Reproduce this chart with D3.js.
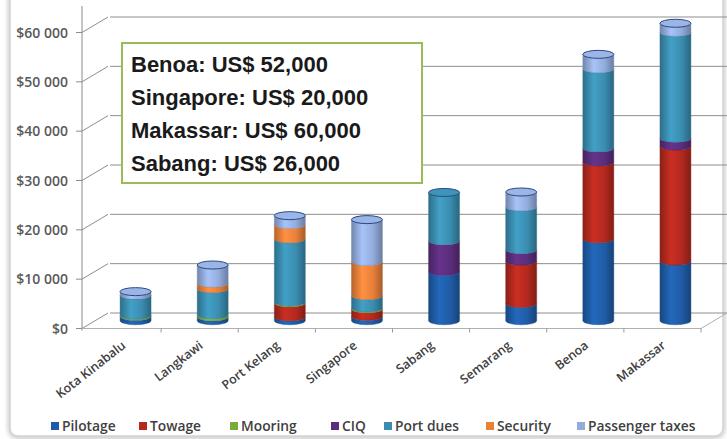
<!DOCTYPE html>
<html>
<head>
<meta charset="utf-8">
<script src="https://cdn.jsdelivr.net/npm/d3@7"></script>
<style>
  body { margin: 0; background: #fff; }
  svg { display: block; }
</style>
</head>
<body>
<svg id="chart" width="727" height="439"></svg>
<script>
// ---- data ----
const ports = ["Kota Kinabalu", "Langkawi", "Port Kelang", "Singapore", "Sabang", "Semarang", "Benoa", "Makassar"];
const seriesNames = ["Pilotage", "Towage", "Mooring", "CIQ", "Port dues", "Security", "Passenger taxes"];
const pilotage  = [900, 800, 800, 900, 10000, 3500, 16600, 12100];
const towage    = [0, 0, 2800, 1500, 0, 8600, 15600, 23300];
const mooring   = [200, 400, 200, 200, 0, 0, 0, 0];
const ciq       = [0, 0, 0, 0, 6200, 2300, 2800, 1600];
const portDues  = [4100, 5300, 12800, 2500, 9800, 8700, 16100, 21500];
const security  = [0, 1100, 2900, 6900, 0, 0, 0, 0];
const passenger = [700, 3700, 1800, 8500, 0, 3000, 2900, 1800];
const yTicks = [0, 10000, 20000, 30000, 40000, 50000, 60000];
const notes = ["Benoa: US$ 52,000", "Singapore: US$ 20,000", "Makassar: US$ 60,000", "Sabang: US$ 26,000"];

const colors = ["#1f5ca6", "#b3291f", "#7aab3a", "#5b2d7c", "#3a8db0", "#e8803a", "#93acdc"];
const series = [pilotage, towage, mooring, ciq, portDues, security, passenger];

// ---- layout ----
const svg = d3.select("#chart");
const depthX = 26, depthY = 15.5;   // 3d offset of the back wall
const floorY = 328.5;
const labelFont = "'Open Sans', Lato, sans-serif";

const x = d3.scaleBand().domain(ports).range([84, 701]);
const yFront = d3.scaleLinear().domain([0, 60000]).range([floorY, 32.5]);
const yMid = v => yFront(v) - depthY / 2;

// gradients for cylinders
const defs = svg.append("defs");
colors.forEach((c, i) => {
    const base = d3.color(c);
    const g = defs.append("linearGradient").attr("id", "cyl" + i)
        .attr("x1", "0%").attr("x2", "100%").attr("y1", "0%").attr("y2", "0%");
    g.append("stop").attr("offset", "0%").attr("stop-color", base.darker(0.7));
    g.append("stop").attr("offset", "35%").attr("stop-color", base.brighter(0.35));
    g.append("stop").attr("offset", "70%").attr("stop-color", base);
    g.append("stop").attr("offset", "100%").attr("stop-color", base.darker(0.9));
});
const shadow = defs.append("filter").attr("id", "shadow")
    .attr("x", "-5%").attr("y", "-5%").attr("width", "110%").attr("height", "110%");
shadow.append("feGaussianBlur").attr("stdDeviation", 2);

// frame
svg.append("rect")
    .attr("x", 10).attr("y", -20).attr("width", 713).attr("height", 457).attr("rx", 8)
    .attr("fill", "none").attr("stroke", "#c4c4c4").attr("stroke-width", 4)
    .attr("filter", "url(#shadow)");
svg.append("rect")
    .attr("x", 10).attr("y", -20).attr("width", 713).attr("height", 456).attr("rx", 8)
    .attr("fill", "#fff").attr("stroke", "#d4d4d4").attr("stroke-width", 1.5);

const grid = svg.append("g").attr("stroke", "#8e8e8e").attr("stroke-width", 1).attr("fill", "none");

// back wall gridlines + left wall diagonals
yTicks.forEach(t => {
    const yf = yFront(t);
    grid.append("line").attr("x1", 84 + depthX).attr("x2", 727 + depthX)
        .attr("y1", yf - depthY).attr("y2", yf - depthY);
    grid.append("line").attr("x1", 82).attr("y1", yf)
        .attr("x2", 82 + depthX).attr("y2", yf - depthY);
    grid.append("line").attr("x1", 76).attr("x2", 82).attr("y1", yf).attr("y2", yf);
});

// y axis line
grid.append("line").attr("x1", 82).attr("x2", 82).attr("y1", 6).attr("y2", floorY + 2)
    .attr("stroke", "#8a8a8a");

// floor front edge and right slant
grid.append("line").attr("x1", 82).attr("x2", 701).attr("y1", floorY).attr("y2", floorY)
    .attr("stroke", "#b0b0b0");
grid.append("line").attr("x1", 701).attr("y1", floorY)
    .attr("x2", 701 + depthX).attr("y2", floorY - depthY).attr("stroke", "#b0b0b0");
ports.forEach(p => {
    const xe = x(p) + x.bandwidth();
    grid.append("line").attr("x1", xe).attr("x2", xe)
        .attr("y1", floorY).attr("y2", floorY + 4).attr("stroke", "#999");
});

// y tick labels
svg.append("g").selectAll("text").data(yTicks).join("text")
    .attr("x", 68).attr("y", d => yFront(d) + 5)
    .attr("text-anchor", "end")
    .attr("font-family", labelFont)
    .attr("font-size", 14).attr("font-weight", 600)
    .attr("fill", "#595959")
    .text(d => d === 0 ? "$0" : "$" + d3.format(",")(d).replace(",", " "));

// x labels
svg.append("g").selectAll("text").data(ports).join("text")
    .attr("transform", d => `translate(${x(d) + x.bandwidth() / 2 + 4}, 347) rotate(-38)`)
    .attr("text-anchor", "end")
    .attr("font-family", labelFont)
    .attr("font-size", 12.5).attr("font-weight", 600)
    .attr("fill", "#404040")
    .text(d => d);

// cylinders
const rx = 15.5, ry = 4;
const bars = svg.append("g");
ports.forEach((p, i) => {
    const cx = x(p) + x.bandwidth() / 2 + depthX / 2;
    let acc = 0, topIdx = 0;
    series.forEach((s, k) => {
        const v = s[i];
        if (v <= 0) return;
        const yb = yMid(acc), yt = yMid(acc + v);
        acc += v;
        topIdx = k;
        bars.append("path")
            .attr("d", `M${cx - rx},${yt} A${rx},${ry} 0 0 0 ${cx + rx},${yt} L${cx + rx},${yb} A${rx},${ry} 0 0 1 ${cx - rx},${yb} Z`)
            .attr("fill", `url(#cyl${k})`)
            .attr("stroke", d3.color(colors[k]).darker(0.6))
            .attr("stroke-width", 0.4);
    });
    const capColor = d3.color(colors[topIdx]);
    bars.append("ellipse")
        .attr("cx", cx).attr("cy", yMid(acc)).attr("rx", rx).attr("ry", ry)
        .attr("fill", capColor.brighter(0.15))
        .attr("stroke", "#2a4a80").attr("stroke-width", 1);
});

// legend
const legend = svg.append("g")
    .attr("font-family", labelFont)
    .attr("font-size", 13.8).attr("font-weight", 600).attr("fill", "#404040");
const legendX = [51, 139, 230, 331, 384, 486, 577];
seriesNames.forEach((n, k) => {
    legend.append("rect").attr("x", legendX[k]).attr("y", 422).attr("width", 8).attr("height", 8)
        .attr("fill", colors[k]);
    legend.append("text").attr("x", legendX[k] + 11).attr("y", 431).text(n);
});

// annotation box
const box = svg.append("g");
box.append("rect")
    .attr("x", 122).attr("y", 43).attr("width", 300).attr("height", 140)
    .attr("fill", "#fff").attr("stroke", "#9bbb59").attr("stroke-width", 2);
box.selectAll("text").data(notes).join("text")
    .attr("x", 131).attr("y", (d, i) => 72 + i * 33)
    .attr("font-family", "'Liberation Sans', Arial, sans-serif")
    .attr("font-size", 22).attr("font-weight", 700)
    .attr("fill", "#1a1a1a")
    .text(d => d);
</script>
</body>
</html>
